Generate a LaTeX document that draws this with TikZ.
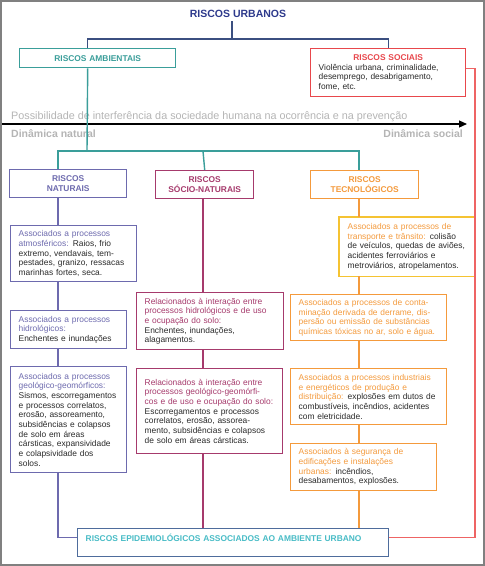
\documentclass[tikz,border=0pt]{standalone}
\usepackage{fontspec}
\setmainfont{Liberation Sans}
\usetikzlibrary{arrows.meta}

\definecolor{urbnavy}{HTML}{2E3A8C}
\definecolor{urbline}{HTML}{3B4F80}
\definecolor{ambteal}{HTML}{3A9E9A}
\definecolor{socred}{HTML}{E8474C}
\definecolor{redline}{HTML}{EE6464}
\definecolor{natpurple}{HTML}{6D6AAE}
\definecolor{snmagenta}{HTML}{A63A6C}
\definecolor{tecorange}{HTML}{F49A3C}
\definecolor{tecgold}{RGB}{245,195,50}
\definecolor{epiblue}{HTML}{4E6C9C}
\definecolor{epicyan}{HTML}{48BCC6}
\definecolor{hintgray}{HTML}{B5B5B5}
\definecolor{bodytext}{HTML}{2A2A2A}

\begin{document}
\begin{tikzpicture}[x=1pt,y=-1pt,
  box/.style={draw,line width=1.4pt,anchor=north west,inner xsep=8pt,inner ysep=2pt,
    align=left,text=bodytext,font=\fontsize{8.4}{9.7}\selectfont},
  head/.style={box,align=center,font=\bfseries\fontsize{8.4}{10}\selectfont},
  link/.style={line width=1.4pt},
  hint/.style={text=hintgray,inner sep=0pt,font=\fontsize{10.8}{12}\selectfont}]
\useasboundingbox (0,0) rectangle (485,566);
\fill[white] (0,0) rectangle (485,566);
\draw[gray,line width=2pt] (1,1) rectangle (484,565);

\node[font=\bfseries\fontsize{10.5}{12}\selectfont,text=urbnavy] (urb) at (238,14) {RISCOS URBANOS};
\node[head,draw=ambteal,text=ambteal,text width=140,minimum height=19] (amb) at (19,48) {RISCOS AMBIENTAIS};
\node[box,draw=socred,text width=139,minimum height=48] (soc) at (310,48)
  {\makebox[139pt][c]{\textcolor{socred}{\bfseries RISCOS SOCIAIS}}\\
   Violência urbana, criminalidade,\\ desemprego, desabrigamento,\\ fome, etc.};

\coordinate (barU) at (232,39);
\draw[link,urbline] ([xshift=-6pt]urb.south) -- (barU);
\draw[link,urbline] ([xshift=-10pt]amb.north) |- (barU) -| (soc.north);

\node[hint,anchor=base west] (poss) at (11,119)
  {Possibilidade de interferência da sociedade humana na ocorrência e na prevenção};
\node[hint,font=\bfseries\fontsize{10.5}{12}\selectfont,anchor=west] (dnat) at (11,134) {Dinâmica natural};
\node[hint,font=\bfseries\fontsize{10.5}{12}\selectfont,anchor=east] (dsoc) at (463,134) {Dinâmica social};
\coordinate (axL) at (2,124);
\coordinate (axR) at (467,124);
\draw[line width=1.2pt,-{Triangle[length=8pt,width=7pt]}] (axL) -- (axR);

\node[head,draw=natpurple,text=natpurple,text width=101,minimum height=28] (nat) at (9,169) {RISCOS\\ NATURAIS};
\node[head,draw=snmagenta,text=snmagenta,text width=82,minimum height=28] (snat) at (155,170) {RISCOS\\ SÓCIO-NATURAIS};
\node[head,draw=tecorange,text=tecorange,text width=92,minimum height=28] (tec) at (310,170) {RISCOS\\ TECNOLÓGICOS};

\coordinate (barA) at (87,151);
\coordinate (cN) at (58,0);
\coordinate (cS) at (203,0);
\coordinate (cT) at (359,0);
\draw[link,ambteal] ([xshift=-10pt]amb.south) -- (barA);
\draw[link,ambteal] (nat.north -| cN) |- (barA) -| (tec.north -| cT);
\draw[link,ambteal] (barA -| cS) -- (snat.north);

\node[box,draw=natpurple,text width=110,minimum height=56] (n1) at (10,225)
  {\textcolor{natpurple}{Associados a processos}\\ \textcolor{natpurple}{atmosféricos:} Raios, frio\\
   extremo, vendavais, tem-\\ pestades, granizo, ressacas\\ marinhas fortes, seca.};
\node[box,draw=natpurple,text width=100,minimum height=38] (n2) at (10,310)
  {\textcolor{natpurple}{Associados a processos}\\ \textcolor{natpurple}{hidrológicos:}\\ Enchentes e inundações};
\node[box,draw=natpurple,text width=100,minimum height=106] (n3) at (10,366)
  {\textcolor{natpurple}{Associados a processos}\\ \textcolor{natpurple}{geológico-geomórficos:}\\
   Sismos, escorregamentos\\ e processos correlatos,\\ erosão, assoreamento,\\ subsidências e colapsos\\
   de solo em áreas\\ cársticas, expansividade\\ e colapsividade dos\\ solos.};

\node[box,draw=snmagenta,text width=131,minimum height=57] (s1) at (136,292)
  {\textcolor{snmagenta}{Relacionados à interação entre}\\ \textcolor{snmagenta}{processos hidrológicos e de uso}\\
   \textcolor{snmagenta}{e ocupação do solo:}\\ Enchentes, inundações,\\ alagamentos.};
\node[box,draw=snmagenta,text width=130,minimum height=85] (s2) at (136,368)
  {\textcolor{snmagenta}{Relacionados à interação entre}\\ \textcolor{snmagenta}{processos geológico-geomórfi-}\\
   \textcolor{snmagenta}{cos e de uso e ocupação do solo:}\\ Escorregamentos e processos\\
   correlatos, erosão, assorea-\\ mento, subsidências e colapsos\\ de solo em áreas cársticas.};

\node[box,draw=none,text width=118,minimum height=58] (t1) at (339,217)
  {\textcolor{tecorange}{Associados a processos de}\\ \textcolor{tecorange}{transporte e trânsito:} colisão\\
   de veículos, quedas de aviões,\\ acidentes ferroviários e\\ metroviários, atropelamentos.};
\draw[tecgold,line width=1.4pt] (t1.north west) rectangle (t1.south east);
\node[box,draw=tecorange,text=tecorange,text width=140,minimum height=46] (t2) at (290,294)
  {Associados a processos de conta-\\ minação derivada de derrame, dis-\\
   persão ou emissão de substâncias\\ químicas tóxicas no ar, solo e água.};
\node[box,draw=tecorange,text width=140,minimum height=56] (t3) at (290,368)
  {\textcolor{tecorange}{Associados a processos industriais}\\ \textcolor{tecorange}{e energéticos de produção e}\\
   \textcolor{tecorange}{distribuição:} explosões em dutos de\\ combustíveis, incêndios, acidentes\\ com eletricidade.};
\node[box,draw=tecorange,text width=130,minimum height=47] (t4) at (290,443)
  {\textcolor{tecorange}{Associados à segurança de}\\ \textcolor{tecorange}{edificações e instalações}\\
   \textcolor{tecorange}{urbanas:} incêndios,\\ desabamentos, explosões.};

\node[box,draw=epiblue,text=epicyan,font=\bfseries\fontsize{8.4}{9.7}\selectfont,text width=295,minimum height=28] (epi) at (77,528)
  {RISCOS EPIDEMIOLÓGICOS ASSOCIADOS AO AMBIENTE URBANO\\ \mbox{}};

\draw[link,natpurple] (nat.south -| cN) -- (n1.north -| cN);
\draw[link,natpurple] (n1.south -| cN) -- (n2.north -| cN);
\draw[link,natpurple] (n2.south -| cN) -- (n3.north -| cN);
\draw[link,natpurple] (n3.south -| cN) |- ([yshift=5pt]epi.west);

\draw[link,snmagenta] (snat.south -| cS) -- (s1.north -| cS);
\draw[link,snmagenta] (s1.south -| cS) -- (s2.north -| cS);
\draw[link,snmagenta] (s2.south -| cS) -- (epi.north -| cS);

\draw[link,tecorange] (tec.south -| cT) -- (t1.north -| cT);
\draw[link,tecorange] (t1.south -| cT) -- (t2.north -| cT);
\draw[link,tecorange] (t2.south -| cT) -- (t3.north -| cT);
\draw[link,tecorange] (t3.south -| cT) -- (t4.north -| cT);
\draw[link,tecorange] (t4.south -| cT) -- (epi.north -| cT);

\coordinate (rc) at (475,300);
\draw[link,redline] ([yshift=4pt]soc.east) -| (rc) |- ([yshift=5pt]epi.east);
\end{tikzpicture}
\end{document}
